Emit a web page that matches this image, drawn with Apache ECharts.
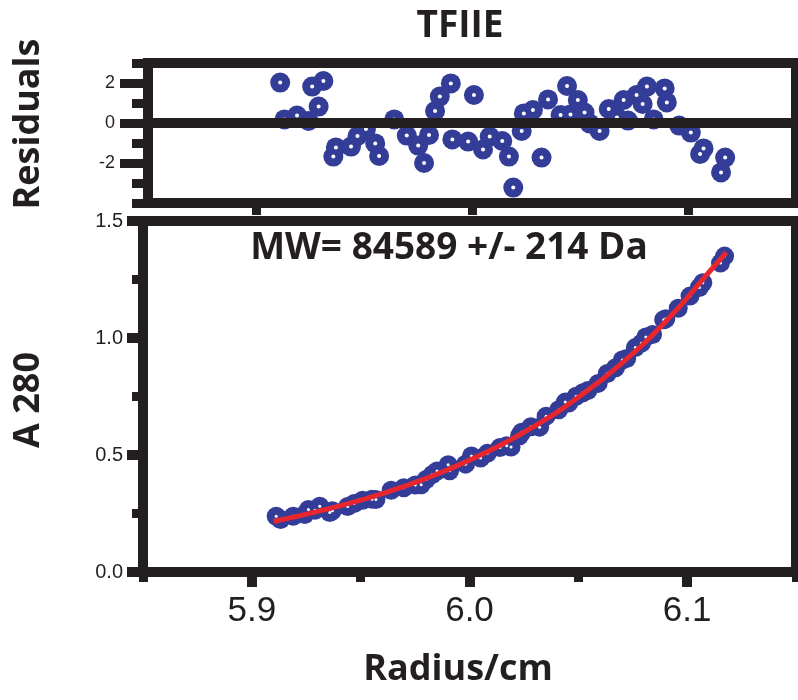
<!DOCTYPE html>
<html>
<head>
<meta charset="utf-8">
<script src="https://cdn.jsdelivr.net/npm/echarts@6/dist/echarts.min.js"></script>
<style>
  html, body { margin: 0; padding: 0; background: #fff; }
  #chart { width: 798px; height: 700px; }
</style>
</head>
<body>
<div id="chart"></div>
<script>
// radius of each scan point (cm)
const radius = [5.9112, 5.9132, 5.9190, 5.9243, 5.9260, 5.9290, 5.9312, 5.9358, 5.9370, 5.9440,
  5.9470, 5.9509, 5.9552, 5.9570, 5.9640, 5.9698, 5.9751, 5.9778, 5.9801, 5.9829,
  5.9851, 5.9902, 5.9909, 5.9982, 6.0009, 6.0051, 6.0082, 6.0140, 6.0171, 6.0191,
  6.0230, 6.0240, 6.0282, 6.0322, 6.0352, 6.0410, 6.0440, 6.0456, 6.0490, 6.0521,
  6.0544, 6.0591, 6.0633, 6.0671, 6.0702, 6.0722, 6.0762, 6.0790, 6.0810, 6.0841,
  6.0892, 6.0902, 6.0959, 6.1013, 6.1056, 6.1072, 6.1153, 6.1172];
// residuals of the fit
const residuals = [2.02, 0.18, 0.37, 0.10, 1.82, 0.82, 2.10, -1.68, -1.22, -1.18,
  -0.65, -0.30, -1.02, -1.65, 0.18, -0.63, -1.13, -2.00, -0.60, 0.60,
  1.32, 1.98, -0.82, -0.93, 1.40, -1.32, -0.68, -0.90, -1.68, -3.23,
  -0.40, 0.48, 0.65, -1.73, 1.18, 0.40, 1.85, 0.43, 1.15, 0.52,
  -0.02, -0.40, 0.70, 0.28, 1.15, 0.12, 1.40, 0.95, 1.82, 0.18,
  1.73, 1.03, -0.13, -0.48, -1.55, -1.27, -2.47, -1.73];
// measured A280
const absorbance = [0.238, 0.224, 0.238, 0.246, 0.267, 0.264, 0.281, 0.254, 0.262, 0.280,
  0.293, 0.307, 0.311, 0.310, 0.349, 0.360, 0.372, 0.373, 0.395, 0.417,
  0.432, 0.458, 0.433, 0.461, 0.496, 0.487, 0.507, 0.532, 0.540, 0.534,
  0.582, 0.597, 0.621, 0.619, 0.666, 0.693, 0.726, 0.722, 0.751, 0.766,
  0.776, 0.806, 0.848, 0.873, 0.906, 0.912, 0.959, 0.978, 1.004, 1.015,
  1.078, 1.082, 1.127, 1.179, 1.216, 1.236, 1.320, 1.350];
// fitted curve
const fitRadius = [5.910, 5.930, 5.950, 5.970, 5.990, 6.010, 6.030, 6.050, 6.070, 6.090, 6.110, 6.118];
const fitAbsorbance = [0.216, 0.258, 0.307, 0.366, 0.437, 0.522, 0.624, 0.747, 0.893, 1.069, 1.281, 1.366];

const radiusTicks = [5.9, 6.0, 6.1];
const radiusMinor = [5.85, 5.95, 6.05, 6.15];
const residualTicks = [-2, 0, 2];
const residualMinor = [-4, -3, -1, 1, 3];
const absTicks = [0, 0.5, 1.0, 1.5];
const absMinor = [0.25, 0.75, 1.25];

const ink = '#231f20';
const blue = '#333d97';
const red = '#e8262d';
const boldFont = '"Open Sans", "DejaVu Sans", sans-serif';
const tickFont = '"Liberation Sans", Arial, sans-serif';

function frameAxis(grid, pos, extra) {
  return Object.assign({
    type: 'value', gridIndex: grid, position: pos,
    axisLine: { show: true, onZero: false, lineStyle: { color: ink, width: 10, cap: 'square' } },
    axisTick: { show: false },
    axisLabel: { show: false },
    splitLine: { show: false }
  }, extra);
}

function tickAxis(grid, pos, vals, len, extra) {
  return Object.assign({
    type: 'value', gridIndex: grid, position: pos,
    axisLine: { show: false, onZero: false },
    axisTick: { show: true, length: len, customValues: vals, lineStyle: { color: ink, width: 9 } },
    axisLabel: { show: false },
    splitLine: { show: false }
  }, extra);
}

const xr = { min: 5.85, max: 6.15 };
const yr = { min: -4, max: 3 };
const ya = { min: 0, max: 1.5 };

function label(text, x, y, size, rotate) {
  return {
    type: 'text', x: x, y: y, rotation: rotate ? Math.PI / 2 : 0,
    style: { text: text, fontFamily: boldFont, fontWeight: 'bold', fontSize: size, fill: ink, align: 'center', verticalAlign: 'middle' }
  };
}

const chart = echarts.init(document.getElementById('chart'));
chart.setOption({
  animation: false,
  backgroundColor: '#fff',
  grid: [
    { left: 148, top: 63, width: 648, height: 140 },
    { left: 143, top: 221, width: 653, height: 351 }
  ],
  xAxis: [
    frameAxis(0, 'bottom', Object.assign({
      axisTick: { show: true, length: 12, customValues: radiusTicks, lineStyle: { color: ink, width: 9 } }
    }, xr)),
    frameAxis(0, 'top', Object.assign({
      axisTick: { show: true, length: 4, customValues: [5.9, 6.0], lineStyle: { color: ink, width: 9 } }
    }, xr)),
    frameAxis(1, 'bottom', Object.assign({
      axisTick: { show: true, length: 15, customValues: radiusTicks, lineStyle: { color: ink, width: 10 } },
      axisLabel: {
        show: true, customValues: radiusTicks, margin: 22,
        fontFamily: tickFont, fontSize: 35, color: ink,
        formatter: v => v.toFixed(1)
      }
    }, xr)),
    tickAxis(1, 'bottom', radiusMinor, 10, xr),
    frameAxis(1, 'top', xr)
  ],
  yAxis: [
    frameAxis(0, 'left', Object.assign({
      axisTick: { show: true, length: 28, customValues: residualTicks, lineStyle: { color: ink, width: 9 } },
      axisLabel: {
        show: true, customValues: residualTicks, margin: 33,
        fontFamily: tickFont, fontSize: 18, color: ink,
        formatter: v => String(Math.round(v))
      }
    }, yr)),
    tickAxis(0, 'left', residualMinor, 16, yr),
    frameAxis(0, 'right', yr),
    frameAxis(1, 'left', Object.assign({
      axisTick: { show: true, length: 16, customValues: absTicks, lineStyle: { color: ink, width: 10 } },
      axisLabel: {
        show: true, customValues: absTicks, margin: 20,
        fontFamily: tickFont, fontSize: 20, color: ink,
        formatter: v => v.toFixed(1)
      }
    }, ya)),
    tickAxis(1, 'left', absMinor, 11, ya),
    frameAxis(1, 'right', ya)
  ],
  graphic: [
    label('TFIIE', 460, 26, 37),
    label('MW= 84589 +/- 214 Da', 449, 248, 37),
    label('Residuals', 29, 124, 36, true),
    label('A 280', 29, 400, 36, true),
    label('Radius/cm', 458, 670, 36)
  ],
  series: [
    {
      name: 'zero', type: 'scatter', xAxisIndex: 0, yAxisIndex: 0, data: [], z: 1,
      markLine: {
        silent: true, symbol: 'none', label: { show: false },
        lineStyle: { color: ink, width: 10, type: 'solid' },
        data: [{ yAxis: 0 }]
      }
    },
    {
      name: 'residuals', type: 'scatter', xAxisIndex: 0, yAxisIndex: 0, z: 3,
      symbolSize: 20, itemStyle: { color: blue, opacity: 1 },
      data: radius.map((r, i) => [r, residuals[i]])
    },
    {
      name: 'residual dots', type: 'scatter', xAxisIndex: 0, yAxisIndex: 0, z: 4,
      symbolSize: 4, itemStyle: { color: '#fff', opacity: 1 },
      data: radius.map((r, i) => [r, residuals[i]])
    },
    {
      name: 'A280', type: 'scatter', xAxisIndex: 2, yAxisIndex: 3, z: 3,
      symbolSize: 19, itemStyle: { color: blue, opacity: 1 },
      data: radius.map((r, i) => [r, absorbance[i]])
    },
    {
      name: 'A280 dots', type: 'scatter', xAxisIndex: 2, yAxisIndex: 3, z: 4,
      symbolSize: 3, itemStyle: { color: '#fff', opacity: 1 },
      data: radius.map((r, i) => [r, absorbance[i]])
    },
    {
      name: 'fit', type: 'line', xAxisIndex: 2, yAxisIndex: 3, z: 5,
      smooth: true, showSymbol: false,
      lineStyle: { color: red, width: 5 },
      data: fitRadius.map((r, i) => [r, fitAbsorbance[i]])
    }
  ]
});
</script>
</body>
</html>
